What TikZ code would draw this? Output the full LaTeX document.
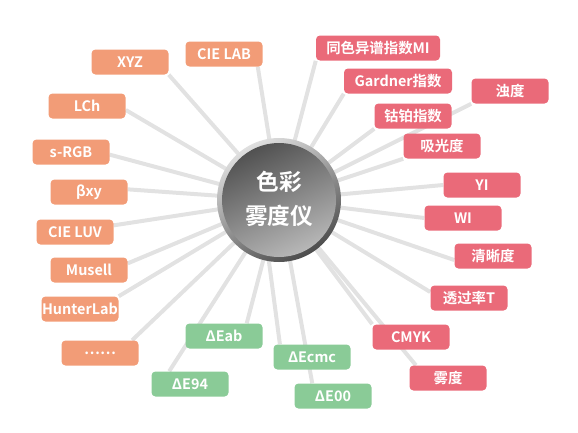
\documentclass[tikz,border=0pt]{standalone}
\usepackage{fontspec}
\setmainfont{Noto Sans CJK SC}[BoldFont={Noto Sans CJK SC Bold}]
\definecolor{orangebox}{HTML}{F29C77}
\definecolor{redbox}{HTML}{EA6A79}
\definecolor{greenbox}{HTML}{8ACB97}
\definecolor{linegray}{HTML}{E2E2E2}
\tikzset{
  tag/.style={rounded corners=3pt, minimum width=57.75pt, minimum height=18.75pt,
    inner sep=0pt, text=white, font=\bfseries\fontsize{10.8}{12}\selectfont},
  otag/.style={tag, fill=orangebox},
  rtag/.style={tag, fill=redbox},
  gtag/.style={tag, fill=greenbox},
  spoke/.style={draw=linegray, line width=3pt},
}
\begin{document}
\begin{tikzpicture}[x=0.75pt,y=-0.75pt]
\useasboundingbox (0,0) rectangle (578,432);
\coordinate (c) at (279,200);
% boxes (placed first as nodes, drawn on top via layers)
\pgfdeclarelayer{bg}\pgfsetlayers{bg,main}
\node[otag] (xyz) at (130,62) {XYZ};
\node[otag] (cielab) at (224,54) {CIE LAB};
\node[otag] (lch) at (87,106) {LCh};
\node[otag] (srgb) at (71,152) {s-RGB};
\node[otag] (bxy) at (89,192) {βxy};
\node[otag] (cieluv) at (75,232) {CIE LUV};
\node[otag] (musell) at (89,270) {Musell};
\node[otag] (hunter) at (80,309) {HunterLab};
\node[otag] (dots) at (100,353) {……};
\node[gtag] (deab) at (224,336) {ΔEab};
\node[gtag] (de94) at (190,384) {ΔE94};
\node[gtag] (decmc) at (312,357) {ΔEcmc};
\node[gtag] (de00) at (333,396) {ΔE00};
\node[rtag, minimum width=93pt] (mi) at (378,48) {同色异谱指数MI};
\node[rtag, minimum width=81pt] (gardner) at (398,81) {Gardner指数};
\node[rtag] (zhuodu) at (510,91) {浊度};
\node[rtag] (gubo) at (413,116) {钴铂指数};
\node[rtag] (xiguang) at (442,146) {吸光度};
\node[rtag] (yi) at (482,185) {YI};
\node[rtag] (wi) at (463,218) {WI};
\node[rtag] (qingxi) at (493,256) {清晰度};
\node[rtag] (touguo) at (469,298) {透过率T};
\node[rtag] (cmyk) at (411,337) {CMYK};
\node[rtag] (wudu) at (448,378) {雾度};
\begin{pgfonlayer}{bg}
\draw[spoke] (c) -- (xyz.south east);
\draw[spoke] (c) -- ([xshift=-3.75pt]cielab.south east);
\draw[spoke] (c) -- ([yshift=-3pt]lch.east);
\draw[spoke] (c) -- ([yshift=-2pt]srgb.east);
\draw[spoke] (c) -- ([yshift=2pt]bxy.east);
\draw[spoke] (c) -- ([yshift=5pt]cieluv.east);
\draw[spoke] (c) -- ([yshift=5pt]musell.east);
\draw[spoke] (c) -- (hunter.north east);
\draw[spoke] (c) -- ([xshift=-5pt]dots.north east);
\draw[spoke] (c) -- ([xshift=-12pt]deab.north east);
\draw[spoke] (c) -- ([xshift=13.5pt]de94.north west);
\draw[spoke] ([xshift=-11pt,yshift=-20pt]c) -- ([xshift=5pt]decmc.north west);
\draw[spoke] (c) -- ([xshift=13.5pt]de00.north west);
\draw[spoke] (c) -- (mi.south west);
\draw[spoke] (c) -- (gardner.south west);
\draw[spoke] (c) -- (gubo.south west);
\draw[spoke] (c) -- (xiguang.south west);
\draw[spoke] (c) -- (zhuodu.south west);
\draw[spoke] (c) -- (yi.west);
\draw[spoke] (c) -- (wi.west);
\draw[spoke] (c) -- ([yshift=-3pt]qingxi.west);
\draw[spoke] (c) -- ([yshift=4.5pt]touguo.west);
\draw[spoke] (c) -- (cmyk.north west);
\draw[spoke] (c) -- ([xshift=5pt]wudu.north west);
% central disc
\shade[top color=gray!25, bottom color=black!70, shading angle=30] (c) circle[radius=62];
\shade[top color=black!68, bottom color=black!28, shading angle=25] (c) circle[radius=57];
\end{pgfonlayer}
\node[text=white, font=\bfseries\fontsize{17}{25}\selectfont, align=center] (title) at (279,199) {色彩\\雾度仪};
\end{tikzpicture}
\end{document}
